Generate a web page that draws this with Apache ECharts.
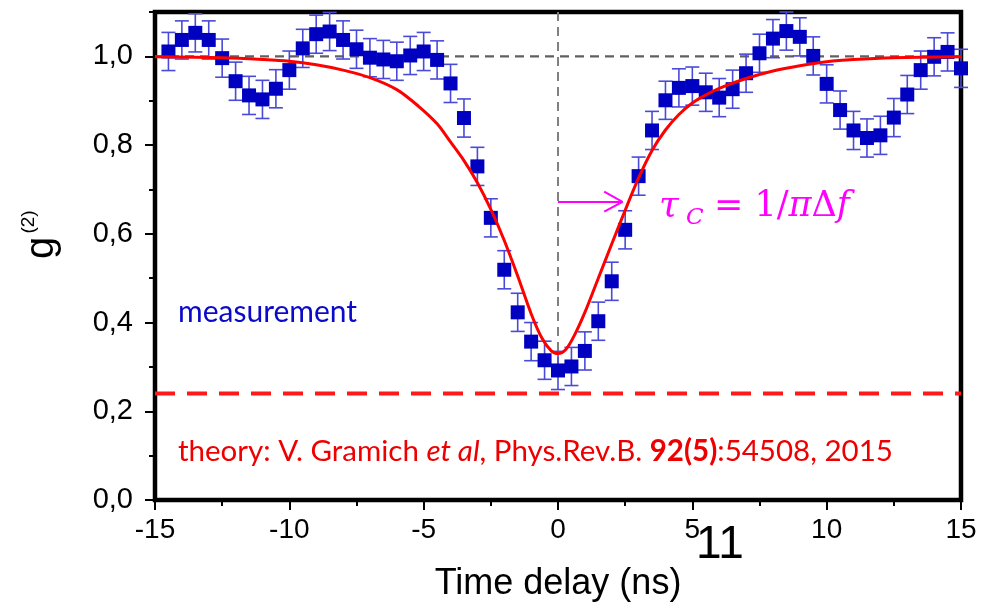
<!DOCTYPE html>
<html>
<head>
<meta charset="utf-8">
<script src="https://cdn.jsdelivr.net/npm/echarts@6/dist/echarts.min.js"></script>
<style>
html,body{margin:0;padding:0;background:#fff;}
#chart{width:981px;height:608px;}
</style>
</head>
<body>
<div id="chart"></div>
<script>
// ---- data ----
const timeNs = [-14.5,-14,-13.5,-13,-12.5,-12,-11.5,-11,-10.5,-10,-9.5,-9,-8.5,-8,-7.5,
  -7,-6.5,-6,-5.5,-5,-4.5,-4,-3.5,-3,-2.5,-2,-1.5,-1,-0.5,0,
  0.5,1,1.5,2,2.5,3,3.5,4,4.5,5,5.5,6,6.5,7,7.5,
  8,8.5,9,9.5,10,10.5,11,11.5,12,12.5,13,13.5,14,14.5,15];
const g2Measured = [1.011,1.037,1.053,1.037,0.996,0.944,0.912,0.903,0.927,0.969,1.018,1.050,1.056,1.037,1.016,
  0.997,0.993,0.989,1.002,1.011,0.992,0.939,0.861,0.752,0.636,0.519,0.423,0.357,0.315,0.292,
  0.301,0.336,0.403,0.493,0.609,0.730,0.833,0.901,0.929,0.933,0.919,0.907,0.926,0.962,1.007,
  1.040,1.057,1.044,1.001,0.938,0.879,0.833,0.816,0.822,0.862,0.914,0.969,0.999,1.010,0.973];
const g2Error = [0.043,0.043,0.043,0.043,0.043,0.043,0.043,0.043,0.043,0.043,0.043,0.043,0.043,0.043,0.043,
  0.043,0.043,0.043,0.043,0.043,0.043,0.043,0.043,0.043,0.043,0.043,0.043,0.043,0.043,0.043,
  0.043,0.043,0.043,0.043,0.043,0.043,0.043,0.043,0.043,0.043,0.043,0.043,0.043,0.043,0.043,
  0.043,0.043,0.043,0.043,0.043,0.043,0.043,0.043,0.043,0.043,0.043,0.043,0.043,0.043,0.043];
const theoryT = [-15,-12.5,-11,-10,-9,-8,-7,-6,-5.2,-4.5,-4,-3.5,-3,-2.5,-2,-1.5,-1,-0.6,-0.25,0,
  0.3,0.6,1,1.5,2,2.5,3,3.5,4,4.5,5,5.5,6,7,8,9,10,11,12.5,15];
const theoryG = [0.999,0.997,0.993,0.989,0.981,0.969,0.952,0.925,0.888,0.848,0.807,0.765,0.715,0.655,0.585,0.505,0.420,0.365,0.336,0.330,
  0.340,0.370,0.423,0.500,0.577,0.653,0.726,0.788,0.834,0.869,0.895,0.913,0.928,0.950,0.967,0.979,0.988,0.993,0.997,0.999];
const xTicks = [-15,-10,-5,0,5,10,15];
const yTicks = [0,0.2,0.4,0.6,0.8,1.0];
const yMinorTicks = [0.1,0.3,0.5,0.7,0.9,1.1];
const unityLevel = 1.0;
const limitLevel = 0.24;
const zeroLineSpan = [1.1, 0.3];
const arrowShaft = [[0,0.672],[2.4,0.672]];
const arrowHead = [[1.72,0.695],[2.4,0.672],[1.72,0.650]];

// ---- build ----
const measured = timeNs.map((t,i)=>[t,g2Measured[i],g2Error[i]]);
const theory = theoryT.map((t,i)=>[t,theoryG[i]]);
const fmt = v => (Math.round(v*10)/10).toFixed(1).replace('.', ',');

const chart = echarts.init(document.getElementById('chart'), null, {renderer:'canvas'});
const axisFont = 'Liberation Sans';
const annFont = 'Lato';
chart.setOption({
  animation:false,
  backgroundColor:'#fff',
  grid:{left:155,right:20,top:12,bottom:108,show:true,borderColor:'#000',borderWidth:4.5,backgroundColor:'transparent'},
  xAxis:{type:'value',min:xTicks[0],max:xTicks[xTicks.length-1],interval:5,
    axisLine:{show:true,onZero:false,lineStyle:{color:'#000',width:4}},
    axisTick:{show:true,inside:false,length:10,lineStyle:{color:'#000',width:2}},
    minorTick:{show:true,splitNumber:2,length:6,lineStyle:{color:'#000',width:2}},
    splitLine:{show:false},
    axisLabel:{fontFamily:axisFont,fontSize:28,color:'#000',margin:16,formatter:v=>String(v)},
    name:'Time delay (ns)',nameLocation:'middle',nameGap:66,
    nameTextStyle:{fontFamily:axisFont,fontSize:36,color:'#000'}
  },
  yAxis:[{type:'value',min:0,max:1.1,position:'left',
    axisLine:{show:true,onZero:false,lineStyle:{color:'#000',width:4}},
    axisTick:{show:true,inside:false,length:10,lineStyle:{color:'#000',width:2},customValues:yTicks},
    axisLabel:{fontFamily:axisFont,fontSize:29,color:'#000',margin:22,customValues:yTicks,formatter:fmt},
    splitLine:{show:false}
  },{type:'value',min:0,max:1.1,position:'left',
    axisLine:{show:false,onZero:false},
    axisTick:{show:true,inside:false,length:6,lineStyle:{color:'#000',width:2},customValues:yMinorTicks},
    axisLabel:{show:false,customValues:yMinorTicks},
    splitLine:{show:false}
  }],
  series:[
    {type:'line',data:[[xTicks[0],unityLevel],[xTicks[xTicks.length-1],unityLevel]],symbol:'none',silent:true,z:1,
      lineStyle:{color:'#606060',width:2.2,type:[9,6]}},
    {type:'line',data:[[0,zeroLineSpan[0]],[0,zeroLineSpan[1]]],symbol:'none',silent:true,z:1,
      lineStyle:{color:'#808080',width:2,type:[9,6]}},
    {type:'line',data:[[xTicks[0],limitLevel],[xTicks[xTicks.length-1],limitLevel]],symbol:'none',silent:true,z:1,clip:false,
      lineStyle:{color:'#ff1a1a',width:4,type:[20,12]}},
    {type:'custom',z:2,clip:false,data:measured,
      renderItem:function(params,api){
        const x=api.value(0), y=api.value(1), e=api.value(2);
        const top=api.coord([x,y+e]), bot=api.coord([x,y-e]);
        const hw=7;
        const st={stroke:'#4a4ad8',lineWidth:1.6};
        return {type:'group',children:[
          {type:'line',shape:{x1:top[0],y1:top[1],x2:bot[0],y2:bot[1]},style:st},
          {type:'line',shape:{x1:top[0]-hw,y1:top[1],x2:top[0]+hw,y2:top[1]},style:st},
          {type:'line',shape:{x1:bot[0]-hw,y1:bot[1],x2:bot[0]+hw,y2:bot[1]},style:st}
        ]};
      }},
    {type:'scatter',z:3,clip:false,data:measured.map(d=>[d[0],d[1]]),symbol:'rect',symbolSize:14,
      itemStyle:{color:'#0000c0',opacity:1}},
    {type:'line',z:4,data:theory,smooth:0.3,symbol:'none',lineStyle:{color:'#ff0000',width:3}},
    {type:'line',z:4,data:arrowShaft,symbol:'none',lineStyle:{color:'#ff00ff',width:2}},
    {type:'line',z:4,data:arrowHead,symbol:'none',lineStyle:{color:'#ff00ff',width:2}}
  ],
  graphic:[
    {type:'group',x:42,y:248,rotation:Math.PI/2,children:[
      {type:'text',x:0,y:0,style:{text:'g',fontFamily:axisFont,fontSize:40,fill:'#000',align:'center',verticalAlign:'middle'}},
      {type:'text',x:26,y:-13,style:{text:'(2)',fontFamily:axisFont,fontSize:19,fill:'#000',align:'center',verticalAlign:'middle'}}
    ]},
    {type:'text',x:178,y:312,style:{text:'measurement',fontFamily:annFont,fontSize:30,fill:'#0a0ac8',verticalAlign:'middle'}},
    {type:'text',x:178,y:451,style:{text:'{n|theory: V. Gramich }{i|et al}{n|, Phys.Rev.B. }{b|92(5)}{n|:54508, 2015}',
      fill:'#ee0000',verticalAlign:'middle',
      rich:{n:{fontFamily:annFont,fontSize:29.5,fill:'#ee0000'},i:{fontFamily:annFont,fontSize:29.5,fontStyle:'italic',fill:'#ee0000'},
        b:{fontFamily:annFont,fontSize:29.5,fontWeight:'bold',fill:'#ee0000'}}}},
    {type:'text',x:659,y:207,style:{text:'τ',fontFamily:'DejaVu Serif',fontStyle:'italic',fontSize:36,fill:'#ff00ff',verticalAlign:'middle'}},
    {type:'text',x:686,y:218,style:{text:'C',fontFamily:'DejaVu Serif',fontStyle:'italic',fontSize:23,fill:'#ff00ff',verticalAlign:'middle'}},
    {type:'text',x:714,y:207,style:{text:'{n|= 1/}{i|π}{n|Δ}{i|f}',fill:'#ff00ff',verticalAlign:'middle',
      rich:{i:{fontFamily:'DejaVu Serif',fontStyle:'italic',fontSize:35,fill:'#ff00ff'},
        n:{fontFamily:'DejaVu Serif',fontSize:35,fill:'#ff00ff'}}}},
    {type:'text',x:720,y:545,style:{text:'11',fontFamily:'Liberation Sans Narrow, Liberation Sans',fontSize:46,fill:'#000',align:'center',verticalAlign:'middle'}}
  ]
});
</script>
</body>
</html>
